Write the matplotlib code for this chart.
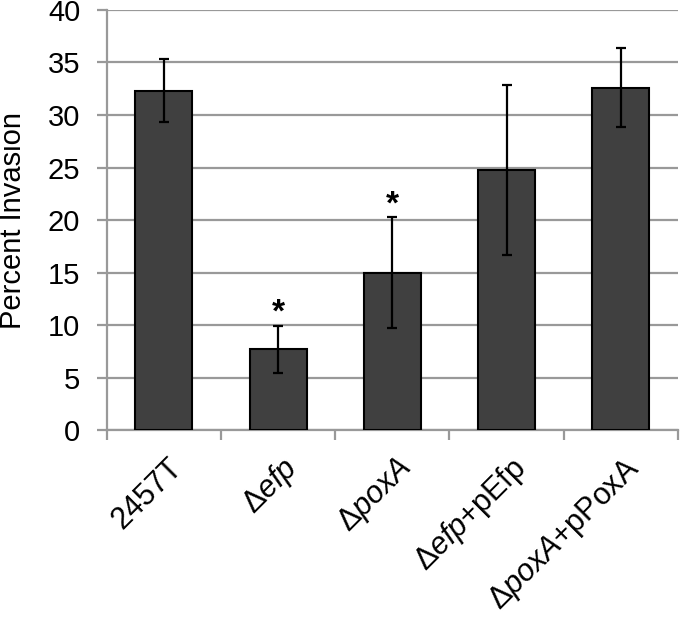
import numpy as np
import matplotlib
matplotlib.use('Agg')
import matplotlib.pyplot as plt
import matplotlib.transforms as mtransforms

plt.rcParams['font.family'] = ['Liberation Sans', 'DejaVu Sans']
plt.rcParams['mathtext.fontset'] = 'custom'
plt.rcParams['mathtext.rm'] = 'Liberation Sans'
plt.rcParams['mathtext.it'] = 'Liberation Sans:italic'

strains = [r'2457T', r'$\Delta\mathit{efp}$', r'$\Delta\mathit{poxA}$',
           r'$\Delta\mathit{efp}\mathrm{+pEfp}$', r'$\Delta\mathit{poxA}\mathrm{+pPoxA}$']
invasion = [32.3, 7.7, 15.0, 24.8, 32.6]
err = [3.0, 2.25, 5.3, 8.1, 3.75]
signif = [False, True, True, False, False]

def main():
    fig = plt.figure(figsize=(6.8, 6.2), dpi=100)
    ax = fig.add_axes([0.157, 0.306, 0.840, 0.678])

    x = np.arange(len(strains))
    ax.bar(x, invasion, 0.5, color='#404040', edgecolor='black', linewidth=1.5, zorder=3)
    ax.errorbar(x, invasion, yerr=err, fmt='none', ecolor='black', elinewidth=1.6,
                capsize=3.5, capthick=1.6, zorder=4)
    for i in range(len(strains)):
        if signif[i]:
            ax.text(x[i], invasion[i] + err[i] - 0.3, '*', ha='center', va='bottom',
                    fontsize=24, fontweight='bold')

    ax.set_xlim(-0.5, len(strains) - 0.5)
    ax.set_ylim(0, 40)
    ax.set_yticks(np.arange(0, 41, 5))
    ax.yaxis.grid(True, color='#999999', linewidth=1.6, zorder=0)
    ax.set_axisbelow(True)

    for s in ['top', 'right']:
        ax.spines[s].set_visible(False)
    for s in ['left', 'bottom']:
        ax.spines[s].set_color('#999999')
        ax.spines[s].set_linewidth(1.6)

    ax.tick_params(axis='y', colors='#999999', length=7, width=1.6, pad=12,
                   labelsize=21, labelcolor='black')
    ax.set_xticks(x)
    ax.set_xticks(np.arange(-0.5, len(strains)), minor=True)
    ax.tick_params(axis='x', which='major', length=0, pad=0)
    ax.tick_params(axis='x', which='minor', colors='#999999', length=7, width=1.6)
    ax.set_xticklabels([])

    offset = mtransforms.ScaledTranslation(3/100, -22/100, fig.dpi_scale_trans)
    for i, lab in enumerate(strains):
        ax.text(x[i], 0, lab, rotation=45, ha='right', va='top', rotation_mode='anchor',
                fontsize=22, transform=ax.get_xaxis_transform() + offset)

    ax.set_ylabel('Percent Invasion', fontsize=21, labelpad=15)

    fig.savefig('out.png', dpi=100)

if __name__ == '__main__':
    main()
